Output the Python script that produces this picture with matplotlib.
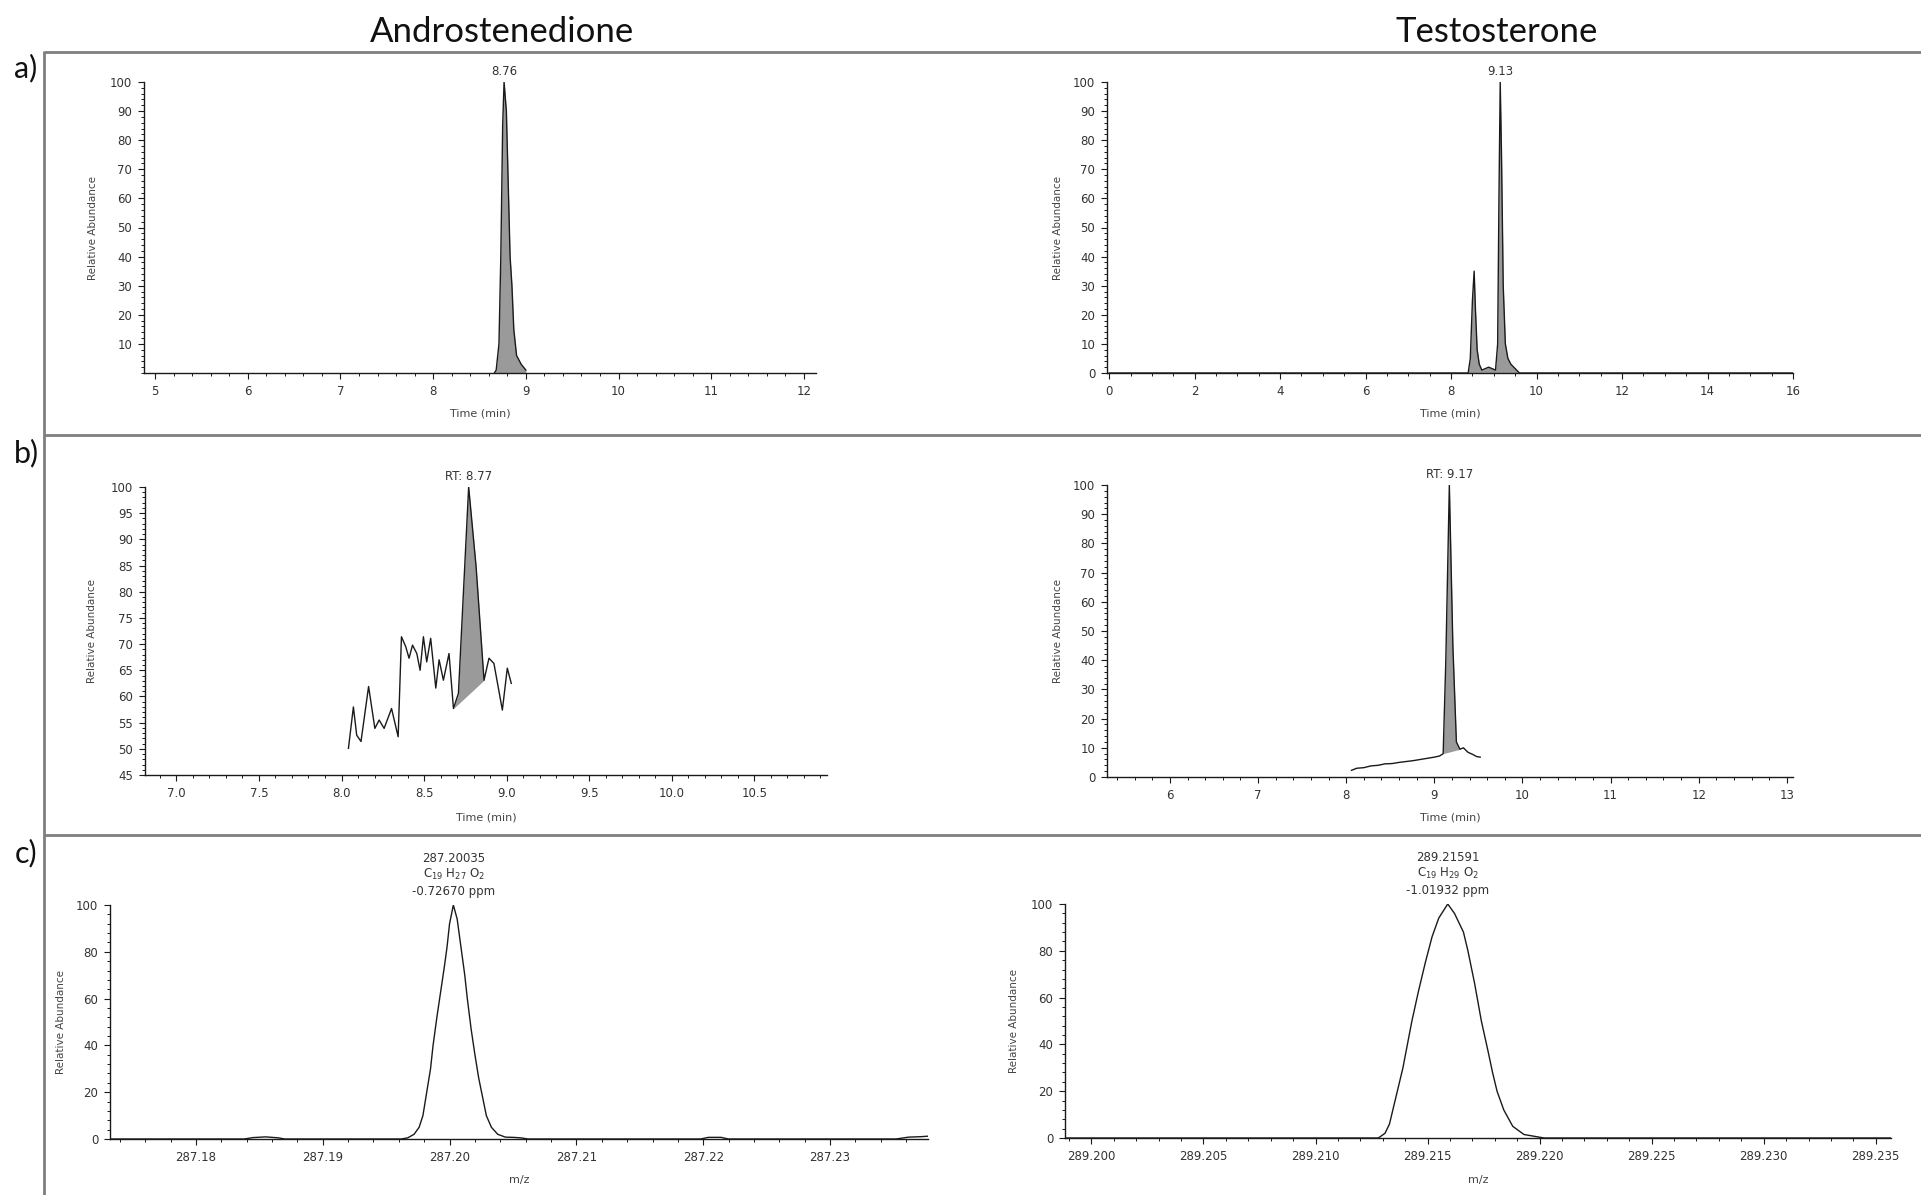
import matplotlib
matplotlib.use("Agg")
import matplotlib.pyplot as plt
from matplotlib.lines import Line2D
from matplotlib.ticker import MultipleLocator, FormatStrFormatter, FixedLocator
import numpy as np

W, H = 1921, 1195

# ---------------- data ----------------
titles = ["Androstenedione", "Testosterone"]
row_labels = ["a)", "b)", "c)"]

# a) chromatograms
a_left_t = [8.66, 8.68, 8.71, 8.73, 8.75, 8.765, 8.79, 8.81, 8.83, 8.85, 8.87, 8.90, 8.95, 9.00]
a_left_v = [0, 1, 10, 40, 85, 100, 90, 65, 40, 30, 15, 6, 3, 1]
a_left_label = "8.76"

a_right_t = [0, 8.40, 8.45, 8.50, 8.54, 8.57, 8.61, 8.66, 8.72, 8.80, 8.88, 8.96, 9.04,
             9.09, 9.12, 9.15, 9.18, 9.22, 9.27, 9.33, 9.40, 9.50, 9.60, 16]
a_right_v = [0, 0, 5, 25, 35, 22, 8, 3, 1, 1.5, 2, 1.5, 1,
             10, 60, 100, 75, 30, 10, 5, 3, 1.5, 0, 0]
a_right_label = "9.13"

# b) extracted chromatograms
b_left_t = [8.042, 8.072, 8.092, 8.118, 8.164, 8.202, 8.228, 8.258, 8.303, 8.343, 8.363,
            8.389, 8.409, 8.430, 8.456, 8.476, 8.496, 8.516, 8.540, 8.571, 8.591, 8.617,
            8.651, 8.678, 8.708, 8.739, 8.770, 8.815, 8.863, 8.893, 8.923, 8.974, 9.004, 9.028]
b_left_v = [50.1, 58.0, 52.6, 51.4, 61.9, 53.9, 55.5, 53.9, 57.7, 52.3, 71.4,
            69.5, 67.3, 69.8, 68.2, 65.0, 71.4, 66.6, 71.1, 61.6, 67.0, 63.1,
            68.2, 57.7, 60.6, 80.3, 100.0, 84.8, 63.1, 67.3, 66.3, 57.4, 65.4, 62.5]
b_left_label = "RT: 8.77"

b_right_t = [8.06, 8.12, 8.20, 8.28, 8.36, 8.44, 8.52, 8.60, 8.68, 8.76, 8.84, 8.92, 9.00,
             9.06, 9.10, 9.13, 9.17, 9.21, 9.25, 9.29, 9.33, 9.38, 9.43, 9.48, 9.52]
b_right_v = [2.3, 3.0, 3.2, 3.8, 4.0, 4.5, 4.6, 5.0, 5.3, 5.6, 6.0, 6.4, 6.8,
             7.2, 8.0, 40, 100, 45, 12, 9.5, 10, 8.5, 7.8, 7.0, 6.8]
b_right_label = "RT: 9.17"

# c) mass spectra
c_left_mz = [287.1732, 287.1838, 287.1845, 287.1855, 287.1865, 287.1870,
             287.1962, 287.1967, 287.1972, 287.1976, 287.1979, 287.1982, 287.1985,
             287.1987, 287.1990, 287.1993, 287.1996, 287.1998, 287.2000, 287.2003,
             287.2006, 287.2009, 287.2012, 287.2014, 287.2017, 287.2020, 287.2023,
             287.2026, 287.2029, 287.2033, 287.2038, 287.2044, 287.2050, 287.2056,
             287.2062, 287.2198, 287.2204, 287.2214, 287.2220, 287.2352, 287.2362,
             287.2372, 287.2377]
c_left_v = [0, 0, 0.6, 0.9, 0.5, 0,
            0, 0.5, 2, 5, 10, 20, 30,
            40, 52, 63, 74, 82, 92, 100,
            94, 82, 70, 60, 47, 36, 26,
            18, 10, 5, 2, 0.8, 0.7, 0.5,
            0, 0, 0.7, 0.7, 0, 0, 0.8,
            1.0, 1.2]
c_left_label = ["287.20035", r"C$_{19}$ H$_{27}$ O$_{2}$", "-0.72670 ppm"]

c_right_mz = [289.1988, 289.2128, 289.2131, 289.2133, 289.2136, 289.2139, 289.2141,
              289.2143, 289.2146, 289.2149, 289.2152, 289.2155, 289.2159, 289.2162,
              289.2166, 289.2168, 289.2171, 289.2174, 289.2177, 289.2179, 289.2181,
              289.2184, 289.2188, 289.2193, 289.2199, 289.2202, 289.2357]
c_right_v = [0, 0, 2, 6, 18, 30, 40,
             50, 63, 75, 86, 94, 100, 96,
             88, 80, 66, 50, 37, 28, 20,
             12, 5, 1.5, 0.5, 0, 0]
c_right_label = ["289.21591", r"C$_{19}$ H$_{29}$ O$_{2}$", "-1.01932 ppm"]

# ---------------- figure ----------------
fig = plt.figure(figsize=(W / 100, H / 100), dpi=100)
fig.patch.set_facecolor("white")

TXT = "#333333"
LINE = "#1a1a1a"
FILL = "#9a9a9a"
SMALL = 8.5


def add_ax(l, r, t, b):
    ax = fig.add_axes([l / W, 1 - b / H, (r - l) / W, (b - t) / H])
    for s in ("top", "right"):
        ax.spines[s].set_visible(False)
    for s in ("left", "bottom"):
        ax.spines[s].set_color(LINE)
        ax.spines[s].set_linewidth(1.0)
    ax.tick_params(which="major", direction="out", length=4.5, width=0.8,
                   colors=LINE, labelsize=SMALL, labelcolor=TXT, pad=4)
    ax.tick_params(which="minor", direction="out", length=2.5, width=0.7, colors=LINE)
    ax.set_facecolor("none")
    return ax


def ylab(x, y0, y1):
    fig.text(x / W, 1 - (y0 + y1) / 2 / H, "Relative Abundance", rotation=90,
             ha="center", va="center", fontsize=7.5, color="#444444")


def xlab(ax_l, ax_r, y, s):
    fig.text((ax_l + ax_r) / 2 / W, 1 - y / H, s, ha="center", va="center",
             fontsize=8, color="#444444")


# ---- a-left
ax = add_ax(144, 816, 82, 373)
ax.set_xlim(4.881, 12.13)
ax.set_ylim(0, 100)
ax.fill_between(a_left_t, a_left_v, 0, color=FILL, lw=0)
ax.plot(a_left_t, a_left_v, color=LINE, lw=1.0)
ax.xaxis.set_major_locator(MultipleLocator(1))
ax.xaxis.set_minor_locator(MultipleLocator(0.2))
ax.yaxis.set_major_locator(FixedLocator([10, 20, 30, 40, 50, 60, 70, 80, 90, 100]))
ax.yaxis.set_minor_locator(MultipleLocator(2))
ax.text(8.765, 101.5, a_left_label, ha="center", va="bottom", fontsize=SMALL, color=TXT)
ylab(93, 82, 373)
xlab(144, 816, 413, "Time (min)")

# ---- a-right
ax = add_ax(1107, 1793, 82, 373)
ax.set_xlim(-0.05, 16)
ax.set_ylim(0, 100)
ax.fill_between(a_right_t, a_right_v, 0, color=FILL, lw=0)
ax.plot(a_right_t, a_right_v, color=LINE, lw=1.0)
ax.xaxis.set_major_locator(MultipleLocator(2))
ax.xaxis.set_minor_locator(MultipleLocator(0.5))
ax.yaxis.set_major_locator(MultipleLocator(10))
ax.yaxis.set_minor_locator(MultipleLocator(2))
ax.text(9.15, 101.5, a_right_label, ha="center", va="bottom", fontsize=SMALL, color=TXT)
ylab(1058, 82, 373)
xlab(1107, 1793, 413, "Time (min)")

# ---- b-left
ax = add_ax(145, 827, 487, 775)
ax.set_xlim(6.81, 10.94)
ax.set_ylim(45, 100)
i0 = b_left_t.index(8.678)
i1 = b_left_t.index(8.863)
seg_t = b_left_t[i0:i1 + 1]
seg_v = b_left_v[i0:i1 + 1]
base = np.interp(seg_t, [seg_t[0], seg_t[-1]], [seg_v[0], seg_v[-1]])
ax.fill_between(seg_t, seg_v, base, color=FILL, lw=0)
ax.plot(b_left_t, b_left_v, color=LINE, lw=1.0)
ax.xaxis.set_major_locator(MultipleLocator(0.5))
ax.xaxis.set_minor_locator(MultipleLocator(0.1))
ax.xaxis.set_major_formatter(FormatStrFormatter("%.1f"))
ax.yaxis.set_major_locator(MultipleLocator(5))
ax.yaxis.set_minor_locator(MultipleLocator(1))
ax.text(8.77, 100.8, b_left_label, ha="center", va="bottom", fontsize=SMALL, color=TXT)
ylab(92, 487, 775)
xlab(145, 827, 817, "Time (min)")

# ---- b-right
ax = add_ax(1107, 1793, 485, 777)
ax.set_xlim(5.285, 13.07)
ax.set_ylim(0, 100)
i0 = b_right_t.index(9.10)
i1 = b_right_t.index(9.29)
seg_t = b_right_t[i0:i1 + 1]
seg_v = b_right_v[i0:i1 + 1]
base = np.interp(seg_t, [seg_t[0], seg_t[-1]], [seg_v[0], seg_v[-1]])
ax.fill_between(seg_t, seg_v, base, color=FILL, lw=0)
ax.plot(b_right_t, b_right_v, color=LINE, lw=1.0)
ax.xaxis.set_major_locator(MultipleLocator(1))
ax.xaxis.set_minor_locator(MultipleLocator(0.2))
ax.yaxis.set_major_locator(MultipleLocator(10))
ax.yaxis.set_minor_locator(MultipleLocator(2))
ax.text(9.17, 101.5, b_right_label, ha="center", va="bottom", fontsize=SMALL, color=TXT)
ylab(1058, 485, 777)
xlab(1107, 1793, 817, "Time (min)")

# ---- c-left
ax = add_ax(110, 928, 905, 1139)
ax.set_xlim(287.17323, 287.23772)
ax.set_ylim(0, 100)
ax.plot(c_left_mz, c_left_v, color=LINE, lw=1.0)
ax.xaxis.set_major_locator(MultipleLocator(0.01))
ax.xaxis.set_minor_locator(MultipleLocator(0.002))
ax.xaxis.set_major_formatter(FormatStrFormatter("%.2f"))
ax.yaxis.set_major_locator(MultipleLocator(20))
ax.yaxis.set_minor_locator(MultipleLocator(4))
ax.text(287.20035, 103, "\n".join(c_left_label), ha="center", va="bottom",
        fontsize=SMALL, color=TXT, linespacing=1.25)
ylab(61, 905, 1139)
xlab(110, 928, 1180, "m/z")

# ---- c-right
ax = add_ax(1065, 1891, 904, 1138)
ax.set_xlim(289.19882, 289.23568)
ax.set_ylim(0, 100)
ax.plot(c_right_mz, c_right_v, color=LINE, lw=1.0)
ax.xaxis.set_major_locator(MultipleLocator(0.005))
ax.xaxis.set_minor_locator(MultipleLocator(0.001))
ax.xaxis.set_major_formatter(FormatStrFormatter("%.3f"))
ax.yaxis.set_major_locator(MultipleLocator(20))
ax.yaxis.set_minor_locator(MultipleLocator(4))
ax.text(289.21591, 103, "\n".join(c_right_label), ha="center", va="bottom",
        fontsize=SMALL, color=TXT, linespacing=1.25)
ylab(1014, 904, 1138)
xlab(1065, 1891, 1180, "m/z")

# ---------------- frame lines ----------------
FR = "#7f7f7f"
def fline(x0, y0, x1, y1):
    fig.add_artist(Line2D([x0 / W, x1 / W], [1 - y0 / H, 1 - y1 / H],
                          transform=fig.transFigure, color=FR, lw=2.0,
                          solid_capstyle="butt"))

fline(44, 52, W, 52)
fline(44, 435, W, 435)
fline(44, 835, W, 835)
fline(44, 51, 44, H)

# ---------------- titles and row labels ----------------
fig.text(502 / W, 1 - 32 / H, titles[0], ha="center", va="center",
         fontsize=25, family=["Lato", "DejaVu Sans"], color="#111111")
fig.text(1497 / W, 1 - 32 / H, titles[1], ha="center", va="center",
         fontsize=25, family=["Lato", "DejaVu Sans"], color="#111111")
for lab, y in zip(row_labels, [68, 453, 853]):
    fig.text(26 / W, 1 - y / H, lab, ha="center", va="center",
             fontsize=22, family=["Lato", "DejaVu Sans"], color="#111111")

fig.savefig("out.png", dpi=100, facecolor="white")
